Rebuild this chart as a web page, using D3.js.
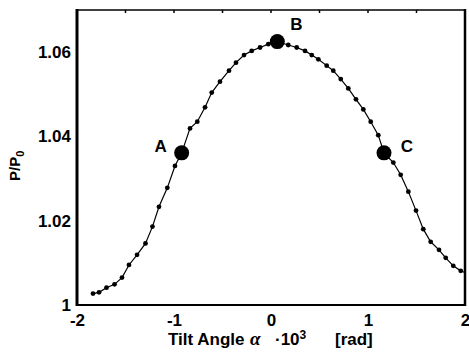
<!DOCTYPE html>
<html>
<head>
<meta charset="utf-8">
<script src="https://cdn.jsdelivr.net/npm/d3@7"></script>
<style>
  body { margin: 0; background: #fff; }
  svg { display: block; }
  text { font-family: "Liberation Sans", Arial, sans-serif; font-weight: bold; fill: #000; }
</style>
</head>
<body>
<script>
// measured curve: tilt angle (x 10^-3 rad) and normalised power P/P0
var alpha = [-1.835, -1.773, -1.696, -1.613, -1.536, -1.464, -1.381, -1.294, -1.222, -1.155,
             -1.069, -0.990, -0.921, -0.835, -0.760, -0.680, -0.611, -0.526, -0.433, -0.361,
             -0.278, -0.199, -0.113, -0.028, 0.065, 0.178, 0.265, 0.351, 0.420, 0.488,
             0.574, 0.642, 0.719, 0.797, 0.876, 0.952, 1.028, 1.106, 1.165, 1.261,
             1.337, 1.416, 1.495, 1.570, 1.646, 1.732, 1.801, 1.879, 1.956, 2.000];
var ratio = [1.0027, 1.0030, 1.0041, 1.0049, 1.0065, 1.0095, 1.0119, 1.0146, 1.0186, 1.0233,
             1.0278, 1.0330, 1.0361, 1.0419, 1.0435, 1.0469, 1.0504, 1.0530, 1.0556, 1.0575,
             1.0593, 1.0603, 1.0611, 1.0619, 1.0625, 1.0617, 1.0611, 1.0603, 1.0593, 1.0583,
             1.0568, 1.0556, 1.0536, 1.0514, 1.0488, 1.0464, 1.0435, 1.0403, 1.0361, 1.0338,
             1.0309, 1.0269, 1.0224, 1.0180, 1.0150, 1.0131, 1.0112, 1.0093, 1.0081, 1.0077];

// highlighted working points
var keyNames = ['A', 'B', 'C'];
var keyAlpha = [-0.921, 0.065, 1.165];
var keyRatio = [1.0361, 1.0625, 1.0361];

var xTicks = [-2, -1, 0, 1, 2];
var yTicks = [1, 1.02, 1.04, 1.06];

var W = 469, H = 356;

var svg = d3.select('body').append('svg')
	.attr('width', W)
	.attr('height', H);

var x = d3.scaleLinear().domain([-2, 2]).range([77, 465]);
var y = d3.scaleLinear().domain([1, 1.07]).range([305, 10]);

// frame: heavy left side, lighter on the others
svg.append('line').attr('x1', 77).attr('x2', 77).attr('y1', 9).attr('y2', 306)
	.attr('stroke', '#000').attr('stroke-width', 3);
svg.append('line').attr('x1', 76).attr('x2', 466).attr('y1', 305).attr('y2', 305)
	.attr('stroke', '#000').attr('stroke-width', 2);
svg.append('line').attr('x1', 77).attr('x2', 466).attr('y1', 10).attr('y2', 10)
	.attr('stroke', '#000').attr('stroke-width', 1.5);
svg.append('line').attr('x1', 465).attr('x2', 465).attr('y1', 9).attr('y2', 306)
	.attr('stroke', '#000').attr('stroke-width', 2.5);

// small inward ticks along the top edge
svg.selectAll('.minor')
	.data(d3.range(-1.5, 2, 0.5))
	.enter().append('line')
	.attr('x1', function(d) { return x(d); })
	.attr('x2', function(d) { return x(d); })
	.attr('y1', 10).attr('y2', 13)
	.attr('stroke', '#000').attr('stroke-width', 1.5);

// x axis labels
var gx = svg.append('g')
	.attr('transform', 'translate(0,' + 305 + ')')
	.call(d3.axisBottom(x).tickValues(xTicks).tickSize(0).tickPadding(9)
		.tickFormat(function(d) { return String(d).replace('\u2212', '-'); }));
gx.select('.domain').remove();
gx.selectAll('text').style('font-size', '17px').attr('font-family', null);

// y axis labels
var gy = svg.append('g')
	.attr('transform', 'translate(' + 77 + ',0)')
	.call(d3.axisLeft(y).tickValues(yTicks).tickSize(0).tickPadding(6)
		.tickFormat(function(d) { return d === 1 ? '1' : d3.format('.2f')(d); }));
gy.select('.domain').remove();
gy.selectAll('text').style('font-size', '17px').attr('font-family', null);

// axis titles
var xt = svg.append('text')
	.attr('x', 168)
	.attr('y', 345)
	.style('font-size', '17px');
xt.append('tspan').text('Tilt Angle ');
xt.append('tspan').attr('x', 250)
	.style('font-family', '"Liberation Serif", serif').style('font-style', 'italic')
	.style('font-size', '19px').text('\u03b1');
xt.append('tspan').attr('x', 275).text('\u00b710');
xt.append('tspan').attr('dy', -6).style('font-size', '12px').text('3');
xt.append('tspan').attr('x', 335).attr('dy', 6).text('[rad]');

var yt = svg.append('text')
	.attr('transform', 'translate(20,' + 181 + ') rotate(-90)')
	.style('font-size', '15px');
yt.append('tspan').text('P/P');
yt.append('tspan').attr('dy', 4).style('font-size', '11px').text('0');

// curve
var pts = alpha.map(function(a, i) { return [a, ratio[i]]; });
var line = d3.line()
	.x(function(d) { return x(d[0]); })
	.y(function(d) { return y(d[1]); });

svg.append('path')
	.datum(pts)
	.attr('d', line)
	.attr('fill', 'none')
	.attr('stroke', '#000')
	.attr('stroke-width', 1.2);

svg.selectAll('.pt')
	.data(pts.slice(0, pts.length - 1))
	.enter().append('circle')
	.attr('class', 'pt')
	.attr('cx', function(d) { return x(d[0]); })
	.attr('cy', function(d) { return y(d[1]); })
	.attr('r', 2.4)
	.attr('fill', '#000');

// big markers A, B, C
var keys = keyNames.map(function(n, i) { return { n: n, a: keyAlpha[i], r: keyRatio[i] }; });

svg.selectAll('.key')
	.data(keys)
	.enter().append('circle')
	.attr('class', 'key')
	.attr('cx', function(d) { return x(d.a); })
	.attr('cy', function(d) { return y(d.r); })
	.attr('r', 7.5)
	.attr('fill', '#000');

// label offsets relative to each marker
var labelDx = [-21, 19, 23];
var labelDy = [0, -11, 0];

svg.selectAll('.klabel')
	.data(keys)
	.enter().append('text')
	.attr('class', 'klabel')
	.attr('x', function(d, i) { return x(d.a) + labelDx[i]; })
	.attr('y', function(d, i) { return y(d.r) + labelDy[i] - 1; })
	.attr('text-anchor', 'middle')
	.style('font-size', '17px')
	.text(function(d) { return d.n; });
</script>
</body>
</html>
